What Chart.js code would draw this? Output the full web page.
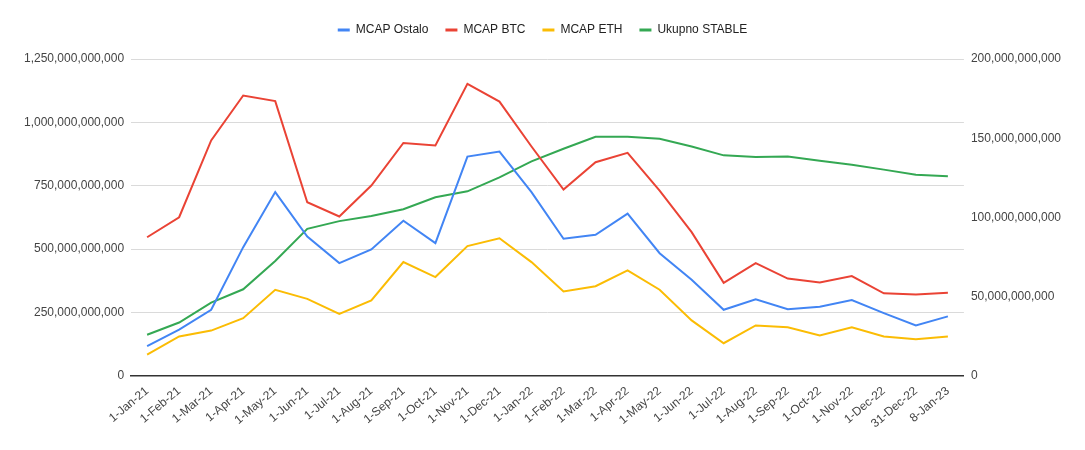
<!DOCTYPE html>
<html>
<head>
<meta charset="utf-8">
<script src="https://cdn.jsdelivr.net/npm/chart.js@4.4.1/dist/chart.umd.min.js"></script>
<style>
html,body{margin:0;padding:0;background:#fff;}
#wrap{width:1085px;height:450px;position:relative;}
</style>
</head>
<body>
<div id="wrap"><canvas id="c"></canvas></div>
<script>
const categories = ['1-Jan-21','1-Feb-21','1-Mar-21','1-Apr-21','1-May-21','1-Jun-21','1-Jul-21','1-Aug-21','1-Sep-21','1-Oct-21','1-Nov-21','1-Dec-21','1-Jan-22','1-Feb-22','1-Mar-22','1-Apr-22','1-May-22','1-Jun-22','1-Jul-22','1-Aug-22','1-Sep-22','1-Oct-22','1-Nov-22','1-Dec-22','31-Dec-22','8-Jan-23'];

// values in billions (×1e9)
const mcapOstalo = [118,183,261,508,725,550,445,499,612,524,865,885,725,541,557,640,484,379,261,302,263,273,299,248,199,235];
const mcapBTC    = [547,626,929,1106,1084,685,629,751,919,909,1152,1082,905,735,843,880,731,567,367,445,384,369,394,326,321,328];
const mcapETH    = [84,156,179,228,340,304,245,298,449,390,512,543,449,333,354,416,340,219,129,199,192,160,192,156,145,156];
const ukupnoStable = [26.0,33.7,46.3,54.7,72.5,92.8,97.7,101,105.2,112.8,116.5,125.3,135.4,143.4,150.9,150.9,149.7,144.8,139.2,138.1,138.5,135.8,133.3,130.2,127.0,126.0];

const leftTicks = [0,250,500,750,1000,1250];
const rightTicks = [0,50,100,150,200];

const B = 1e9;
const toUnits = a => a.map(v => v * B);

const FONT = '"Liberation Sans", Arial, sans-serif';
const fmt = v => Math.round(v).toLocaleString('en-US');

const legendSpacer = {
  id: 'legendSpacer',
  beforeInit(chart) {
    const orig = chart.legend.fit;
    chart.legend.fit = function () {
      orig.bind(chart.legend)();
      this.height += 13;
    };
  }
};

const mk = (label, data, color, axis) => ({
  label, data: toUnits(data), borderColor: color, backgroundColor: color,
  borderWidth: 2, pointRadius: 0, pointHoverRadius: 0, tension: 0, fill: false, yAxisID: axis
});

new Chart(document.getElementById('c'), {
  type: 'line',
  data: {
    labels: categories,
    datasets: [
      mk('MCAP Ostalo', mcapOstalo, '#4285F4', 'y'),
      mk('MCAP BTC', mcapBTC, '#EA4335', 'y'),
      mk('MCAP ETH', mcapETH, '#FBBC04', 'y'),
      mk('Ukupno STABLE', ukupnoStable, '#34A853', 'y1')
    ]
  },
  plugins: [legendSpacer],
  options: {
    responsive: true,
    maintainAspectRatio: false,
    animation: false,
    layout: { padding: { left: 17, right: 17, top: 7, bottom: 11 } },
    plugins: {
      legend: {
        position: 'top',
        labels: {
          boxWidth: 12, boxHeight: 3, padding: 17,
          color: '#222', font: { family: FONT, size: 12 },
          generateLabels: chart => Chart.defaults.plugins.legend.labels.generateLabels(chart)
            .map(l => Object.assign(l, { lineWidth: 0 }))
        }
      },
      tooltip: { enabled: false }
    },
    scales: {
      x: {
        offset: true,
        grid: { display: false, drawTicks: false, tickLength: 0 },
        border: { display: true, color: '#333', width: 1.5 },
        ticks: {
          autoSkip: false, minRotation: 40, maxRotation: 40, padding: 8,
          color: '#444', font: { family: FONT, size: 12 }
        }
      },
      y: {
        position: 'left',
        min: leftTicks[0] * B, max: leftTicks[leftTicks.length - 1] * B,
        afterBuildTicks: s => { s.ticks = leftTicks.map(v => ({ value: v * B })); },
        grid: { color: '#dadada', lineWidth: 1, drawTicks: false },
        border: { display: false },
        ticks: { padding: 7, color: '#444', font: { family: FONT, size: 12 }, callback: v => fmt(v) }
      },
      y1: {
        position: 'right',
        min: rightTicks[0] * B, max: rightTicks[rightTicks.length - 1] * B,
        afterBuildTicks: s => { s.ticks = rightTicks.map(v => ({ value: v * B })); },
        grid: { drawOnChartArea: false, drawTicks: false },
        border: { display: false },
        ticks: { padding: 7, color: '#444', font: { family: FONT, size: 12 }, callback: v => fmt(v) }
      }
    }
  }
});
</script>
</body>
</html>
